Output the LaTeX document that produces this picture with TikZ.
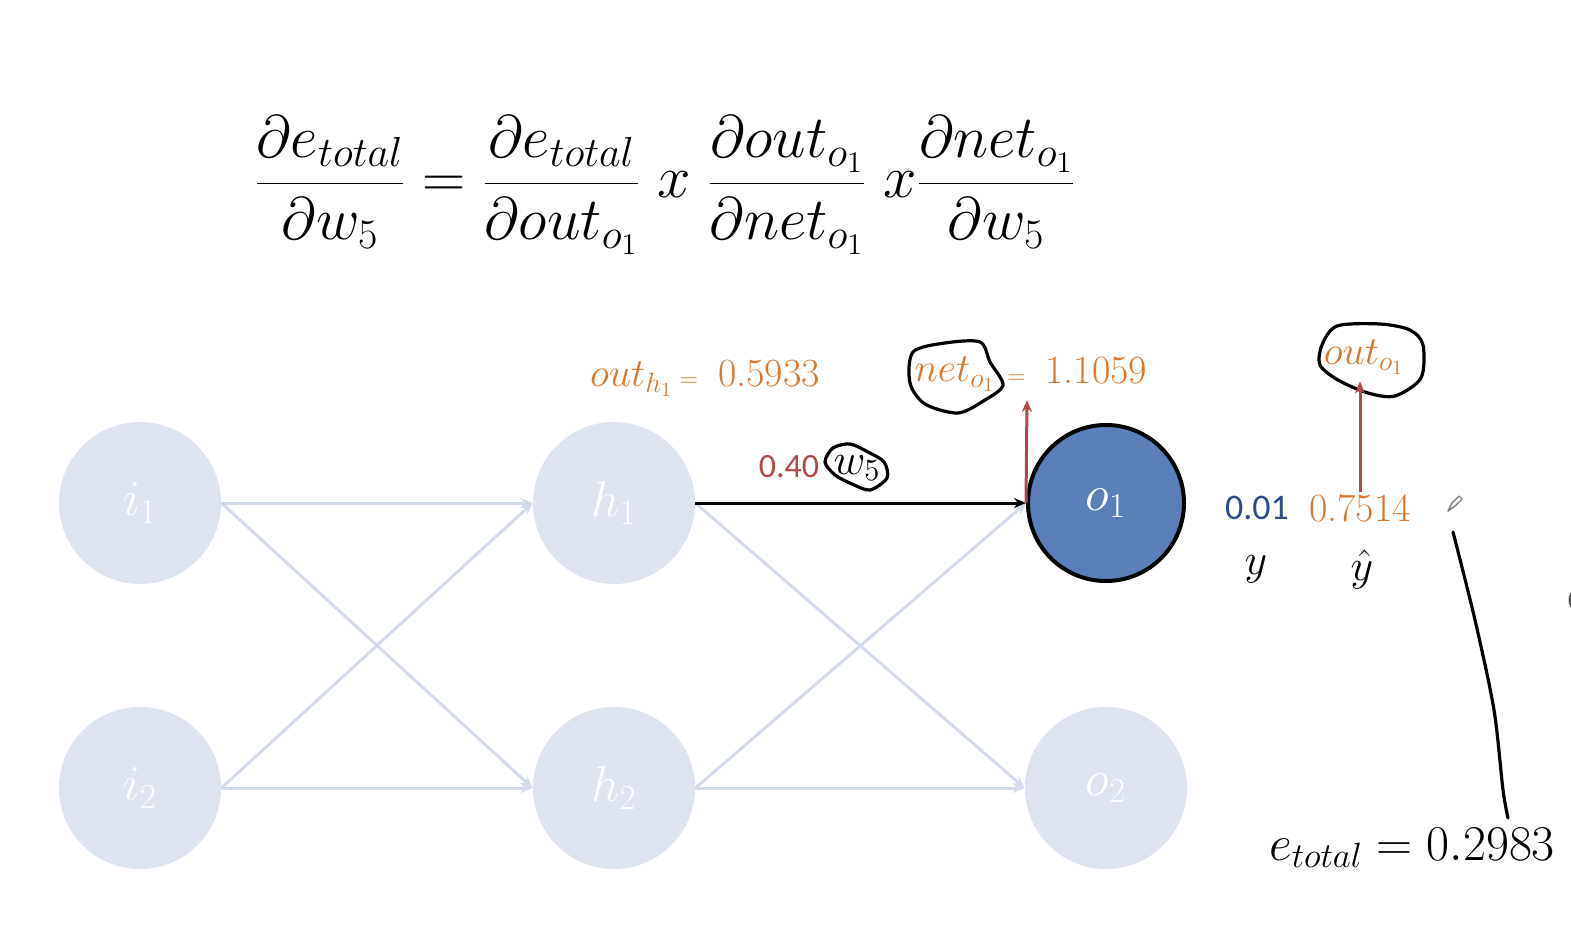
\RequirePackage{fix-cm}
\documentclass[tikz,border=0pt]{standalone}
\usepackage{fontspec}
\newfontfamily\sansnum{Carlito}
\usetikzlibrary{arrows.meta}

\definecolor{nodegray}{HTML}{DEE3F0}
\definecolor{edgegray}{HTML}{D3DAEA}
\definecolor{outblue}{HTML}{5B80B9}
\definecolor{valorange}{HTML}{D9782F}
\definecolor{wred}{HTML}{B04A4A}
\definecolor{ydark}{HTML}{2E4D87}

\begin{document}
\begin{tikzpicture}[x=0.5pt,y=-0.5pt]
\tikzset{neuron/.style={circle,fill=nodegray,text=white,minimum size=81pt,inner sep=0pt,font=\fontsize{25}{30}\selectfont}}
\tikzset{active/.style={neuron,fill=outblue,draw=black,line width=2pt,minimum size=78pt}}
\tikzset{edge/.style={draw=edgegray,line width=1.5pt,-{Stealth[length=6pt,width=5pt]}}}
\tikzset{hot/.style={draw=black,line width=1.5pt,-{Stealth[length=6pt,width=5pt]}}}
\tikzset{grad/.style={draw=wred,line width=1.5pt,-{Stealth[length=6pt,width=5pt]}}}
\tikzset{ring/.style={draw=black,line width=1.6pt,line cap=round,line join=round}}
\tikzset{val/.style={text=valorange,font=\fontsize{20}{24}\selectfont}}
\tikzset{big/.style={font=\fontsize{22}{26}\selectfont,inner sep=0pt}}

\path[use as bounding box] (0,0) rectangle (1571,931);

% chain rule
\node (eq) at (665,185) {\fontsize{30}{36}\selectfont $\displaystyle \frac{\partial e_{total}}{\partial w_5} = \frac{\partial e_{total}}{\partial out_{o_1}}\; x\; \frac{\partial out_{o_1}}{\partial net_{o_1}}\; x \frac{\partial net_{o_1}}{\partial w_5}$};

% network
\node[neuron] (i1) at (140,503) {$i_1$};
\node[neuron] (i2) at (140,788) {$i_2$};
\node[neuron] (h1) at (614,503) {$h_1$};
\node[neuron] (h2) at (614,788) {$h_2$};
\node[active] (o1) at (1106,503) {$o_1$};
\node[neuron] (o2) at (1106,788) {$o_2$};

\foreach \a in {i1,i2} {
  \foreach \b in {h1,h2} {
    \path[edge] (\a.east) -- (\b.west);
  }
}
\foreach \a/\b in {h1/o2,h2/o1,h2/o2} {
  \path[edge] (\a.east) -- (\b.west);
}
\path[hot] (h1.east) -- (o1.west);

% values
\node[val,anchor=west] (outh) at (583,378) {$out_{h_1}$\,{\fontsize{12}{12}\selectfont =}\enspace 0.5933};
\node[text=wred,font=\sansnum\fontsize{17}{20}\selectfont] (wval) at (789,467) {0.40};
\node[big] (w5) at (857,468) {$w_5$};
\draw[ring] plot[smooth cycle] coordinates {(833,448) (850,444) (868,452) (884,462) (887,478) (870,490) (852,484) (835,475) (825,462)};

\node[val] (net) at (955,374) {$net_{o_1}$};
\node[val,anchor=west] (netval) at (1000,371) {{\fontsize{12}{12}\selectfont =}\enspace 1.1059};
\draw[ring] plot[smooth cycle] coordinates {(913,352) (945,343) (980,342) (990,362) (1003,385) (985,400) (958,413) (925,404) (910,383)};
\coordinate (nettip) at (1027,400);
\path[grad] (o1.west) -- (nettip);

\node[val] (outo) at (1364,357) {$out_{o_1}$};
\draw[ring] plot[smooth cycle] coordinates {(1322,345) (1337,326) (1380,324) (1410,330) (1423,345) (1421,378) (1395,396) (1368,393) (1338,380) (1320,365)};

\node[text=ydark,font=\sansnum\fontsize{18}{22}\selectfont,inner sep=1pt] (yval) at (1257,508) {0.01};
\node[val,font=\fontsize{20}{24}\selectfont,inner sep=1pt] (yhatval) at (1360,508) {0.7514};
\node[big] (ylab) at (1256,569) {$y$};
\node[big] (yhat) at (1362,569) {$\hat{y}$};
\path[grad] (yhatval.north) -- (yhatval.north |- outo.south);

% error
\node[font=\fontsize{25}{30}\selectfont,anchor=west] (etot) at (1262,848) {$e_{total} = 0.2983$};
\draw[line width=1.6pt,line cap=round] plot[smooth] coordinates {(1453,532) (1475,620) (1494,710) (1503,790) (1508,818)};
\draw[gray,line width=0.7pt,line join=round] (1448,511) -- (1452,503) -- (1459,496) -- (1462,499) -- (1455,506) -- cycle;
\draw[gray!70!black,line width=1.5pt] (1583,600) ++(150:13) arc (150:210:13);
\end{tikzpicture}
\end{document}
